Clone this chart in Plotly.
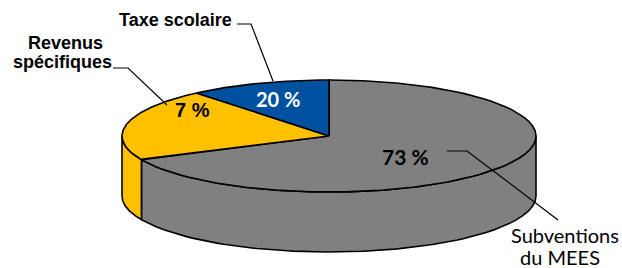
import numpy as np
import plotly.graph_objects as go

# ---- data ----
categories = ["Subventions du MEES", "Revenus spécifiques", "Taxe scolaire"]
values = [73, 7, 20]
pct_labels = ["73 %", "7 %", "20 %"]
colors = ["#808080", "#FFC000", "#0050A0"]

# ---- pseudo-3D geometry (pixel space) ----
CX, CY, A, B, DEPTH = 329, 136, 207, 56, 60
START = 90.0  # first slice starts at 12 o'clock, clockwise


def rim(phi_deg, dy=0.0):
    phi = np.radians(phi_deg)
    t = 1.0 / np.sqrt((np.cos(phi) / A) ** 2 + (np.sin(phi) / B) ** 2)
    return CX + t * np.cos(phi), CY - t * np.sin(phi) + dy


total = float(sum(values))
bounds = []
s = START
for v in values:
    e = s - v / total * 360.0
    bounds.append((s, e))
    s = e

fig = go.Figure()
LINE = dict(color="black", width=1.6)

# side wall pieces (front half: sin(angle) <= 0)
for (s, e), col in zip(bounds, colors):
    lo, hi = e, s
    for k in range(-2, 2):
        f_lo, f_hi = -180 + 360 * k, 360 * k
        a1, a2 = max(lo, f_lo), min(hi, f_hi)
        if a2 - a1 > 1e-6:
            ang = np.linspace(a2, a1, 120)
            tx, ty = rim(ang)
            bx, by = rim(ang[::-1], DEPTH)
            xs = np.concatenate([tx, bx, tx[:1]])
            ys = np.concatenate([ty, by, ty[:1]])
            fig.add_trace(go.Scatter(x=xs, y=ys, mode="lines", fill="toself",
                                     fillcolor=col, line=LINE, hoverinfo="skip",
                                     showlegend=False))

# top face slices
for (s, e), col, name in zip(bounds, colors, categories):
    ang = np.linspace(s, e, 200)
    rx, ry = rim(ang)
    xs = np.concatenate([[CX], rx, [CX]])
    ys = np.concatenate([[CY], ry, [CY]])
    fig.add_trace(go.Scatter(x=xs, y=ys, mode="lines", fill="toself",
                             fillcolor=col, line=LINE, name=name,
                             hoverinfo="name", showlegend=False))

ARIAL = "Liberation Sans, Arial, sans-serif"
CAL = "Lato, Carlito, Calibri, sans-serif"

annos = [
    dict(x=405.5, y=156, text=pct_labels[0], font=dict(family=CAL, size=21, color="black", weight="bold")),
    dict(x=192.5, y=110, text=pct_labels[1], font=dict(family=ARIAL, size=20, color="black", weight="bold")),
    dict(x=277.5, y=98.5, text=pct_labels[2], font=dict(family=CAL, size=20, color="white", weight="bold")),
    dict(x=175.5, y=19.5, text="Taxe scolaire", font=dict(family=ARIAL, size=18, color="black", weight="bold")),
    dict(x=65, y=42.5, text="Revenus", font=dict(family=ARIAL, size=18, color="black", weight="bold")),
    dict(x=62.5, y=61.5, text="spécifiques", font=dict(family=ARIAL, size=18, color="black", weight="bold")),
    dict(x=565, y=235, text="Subventions", font=dict(family=CAL, size=20, color="black")),
    dict(x=560, y=257, text="du MEES", font=dict(family=CAL, size=20, color="black")),
]
for a in annos:
    a.update(xref="x", yref="y", showarrow=False, xanchor="center", yanchor="middle")

leaders = [
    "M237,24 L251,24 L273,81",
    "M113,68 L128,68 L167,105",
    "M447,151 L467,151 L558,220",
]
shapes = [dict(type="path", path=p, xref="x", yref="y", line=dict(color="black", width=1.2))
          for p in leaders]

fig.update_layout(
    width=622, height=268,
    margin=dict(l=0, r=0, t=0, b=0),
    paper_bgcolor="white", plot_bgcolor="white",
    xaxis=dict(range=[0, 622], visible=False, fixedrange=True),
    yaxis=dict(range=[268, 0], visible=False, fixedrange=True),
    annotations=annos, shapes=shapes,
)

fig.write_html(
    "out.html",
    config={"displayModeBar": False},
    post_script="document.body.style.margin='0';document.body.style.overflow='hidden';",
)
